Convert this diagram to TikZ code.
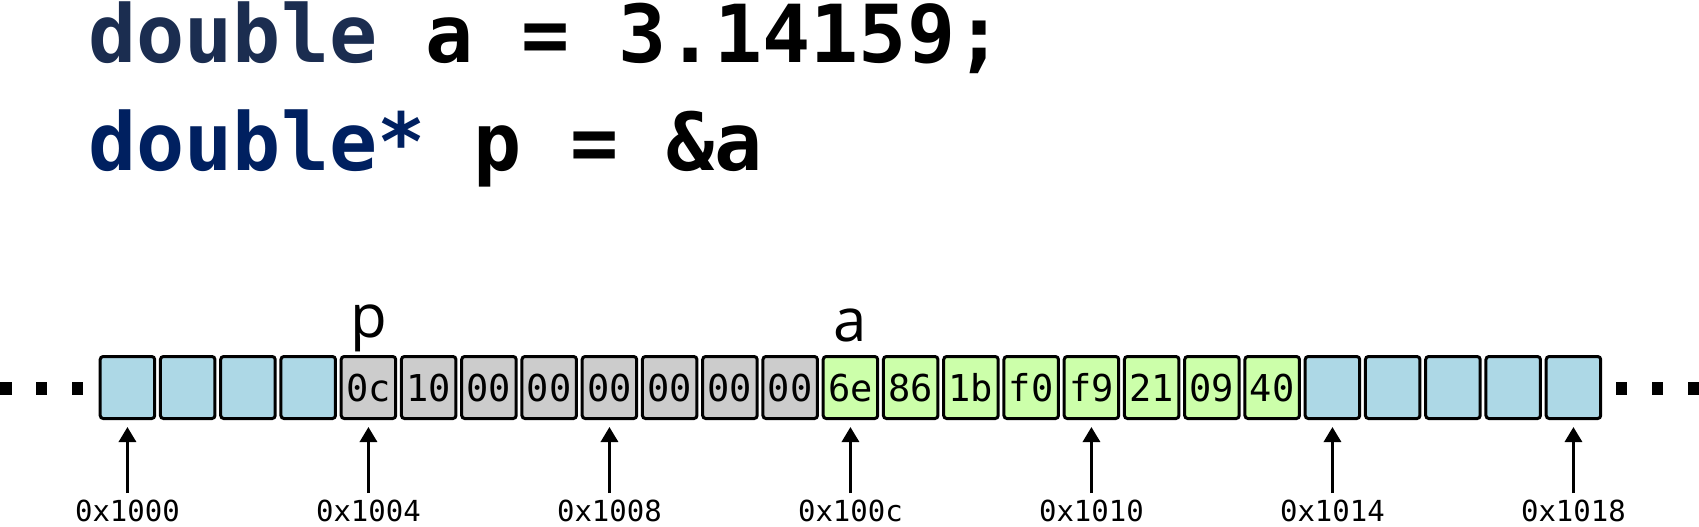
\documentclass[tikz,border=0pt]{standalone}
\usepackage{fontspec}
\setmonofont{DejaVu Sans Mono}
\newfontfamily\varfont{Open Sans}
\usetikzlibrary{arrows.meta}

\definecolor{freebg}{HTML}{ADD8E6}
\definecolor{ptrbg}{HTML}{CCCCCC}
\definecolor{dblbg}{HTML}{CCFFAA}
\definecolor{kwone}{HTML}{1B2D50}
\definecolor{kwtwo}{HTML}{002060}

\tikzset{
  byte/.style={draw=black, line width=1.5pt, rounded corners=1.5pt,
    minimum width=27.25pt, minimum height=31pt, inner sep=0pt,
    font=\ttfamily\fontsize{18.5}{18.5}\selectfont,
    text height=13.5pt, text depth=0pt},
  freebyte/.style={byte, fill=freebg},
  ptrbyte/.style={byte, fill=ptrbg},
  dblbyte/.style={byte, fill=dblbg},
  code/.style={anchor=base west, inner sep=0pt,
    font=\ttfamily\bfseries\fontsize{40}{48}\selectfont},
  varname/.style={anchor=base, inner sep=0pt,
    font=\varfont\fontsize{30}{30}\selectfont},
  addr/.style={anchor=base, inner sep=3pt,
    font=\ttfamily\fontsize{14.5}{14.5}\selectfont},
  ptr/.style={line width=1.6pt, -{Triangle[length=7.5pt,width=8.5pt]},
    shorten >=3.5pt}
}

\begin{document}
\begin{tikzpicture}[x=0.5pt, y=-0.5pt]
\useasboundingbox (0,0) rectangle (1699,526);

% the two lines of code
\node[code] (code1) at (88,62) {{\color{kwone}double} a = 3.14159;};
\node[code] (code2) at (88,170) {{\color{kwtwo}double*} p = \&a};

% memory, one box per byte
\foreach \i in {1,...,4,21,22,...,25}
  \node[freebyte] (b\i) at ({127.45+(\i-1)*60.25},387.5) {};
\foreach \val [count=\i from 5] in {0c,10,00,00,00,00,00,00}
  \node[ptrbyte] (b\i) at ({127.45+(\i-1)*60.25},387.5) {\val};
\foreach \val [count=\i from 13] in {6e,86,1b,f0,f9,21,09,40}
  \node[dblbyte] (b\i) at ({127.45+(\i-1)*60.25},387.5) {\val};

% more memory on both sides
\foreach \x in {0,35.7,71.7,1615.7,1651.7,1687.7}
  \fill (\x,381.7) rectangle ++(11.6,13.3);

\node[varname] (pvar) at ([yshift=9pt]b5.north) {p};
\node[varname] (avar) at ([yshift=7pt]b13.north) {a};

% addresses
\foreach \k/\hex in {1/1000,5/1004,9/1008,13/100c,17/1010,21/1014,25/1018}{
  \node[addr] (ad\k) at (b\k |- 0,521) {0x\hex};
  \draw[ptr] (ad\k) -- (b\k);
}
\end{tikzpicture}
\end{document}
